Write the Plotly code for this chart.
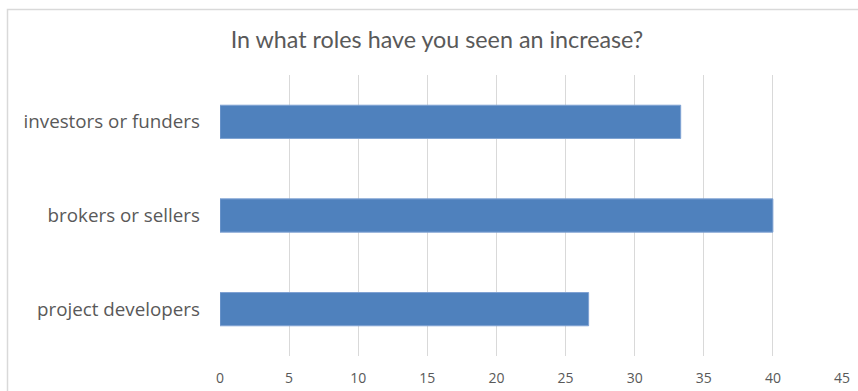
import plotly.graph_objects as go

# Survey responses: share of respondents (%) reporting an increase, by role
roles = ["project developers", "brokers or sellers", "investors or funders"]
shares = [26.67, 40.0, 33.33]
x_ticks = [0, 5, 10, 15, 20, 25, 30, 35, 40, 45]

W, H = 858, 391
L, R, T, B = 220, 16, 75, 35
plot_w = W - L - R
plot_h = H - T - B

fig = go.Figure(
    go.Bar(
        y=roles,
        x=shares,
        orientation="h",
        marker=dict(color="#4F81BD", line=dict(color="#7FA2D3", width=1)),
        hoverinfo="x+y",
    )
)

# Chart frame (extends past the right and bottom edges)
px_to_x = lambda px: (px - L) / plot_w
px_to_y = lambda py: (H - B - py) / plot_h
fig.add_shape(
    type="rect", xref="paper", yref="paper",
    x0=px_to_x(7.5), x1=px_to_x(W + 20),
    y0=px_to_y(H + 20), y1=px_to_y(9.5),
    line=dict(color="#D9D9D9", width=1.5), layer="below",
)

fig.update_layout(
    width=W, height=H,
    margin=dict(l=L, r=R, t=T, b=B, autoexpand=False),
    paper_bgcolor="white", plot_bgcolor="white",
    bargap=0.645,
    showlegend=False,
    title=dict(
        text="In what roles have you seen an increase?",
        x=437 / W, xref="container", xanchor="center",
        y=1 - 40 / H, yref="container", yanchor="middle",
        font=dict(family="Lato", size=23.3, color="#595959"),
    ),
    xaxis=dict(
        range=[0, 45], tickvals=x_ticks, ticktext=[str(v) for v in x_ticks],
        showgrid=True, gridcolor="#D9D9D9", gridwidth=1,
        zeroline=False, showline=False, ticks="",
        ticklabelstandoff=12, automargin=False,
        tickfont=dict(family="Open Sans", size=14, color="#595959"),
        fixedrange=True,
    ),
    yaxis=dict(
        categoryorder="array", categoryarray=roles,
        showgrid=False, zeroline=False, showline=False, ticks="",
        ticklabelstandoff=19, automargin=False,
        tickfont=dict(family="Open Sans", size=18.8, color="#595959"),
        fixedrange=True,
    ),
)

fig.write_html("out.html")
